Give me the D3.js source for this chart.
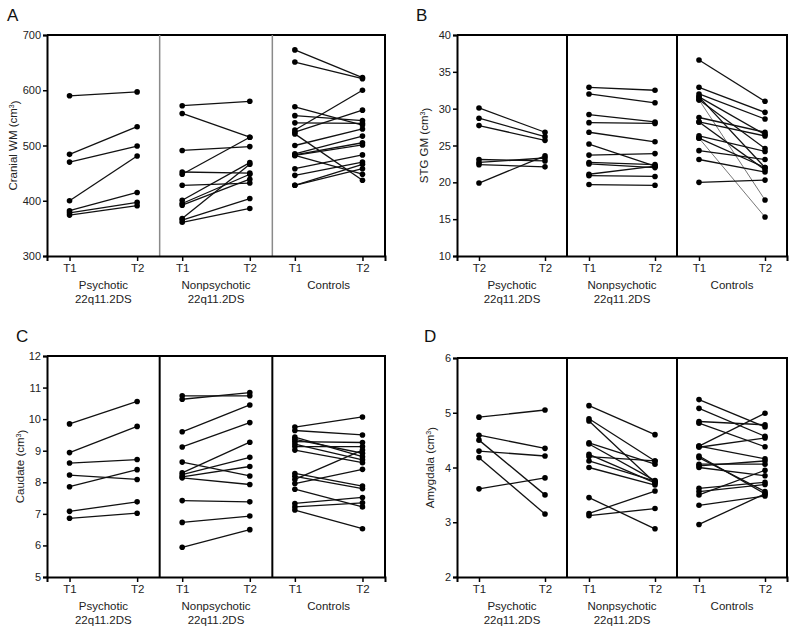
<!DOCTYPE html>
<meta charset="utf-8">
<style>
body { margin: 0; background: #fff; }
svg { font-family: "Liberation Sans", Arial, sans-serif; }
.axis text { font-size: 11px; fill: #222; }
.axis .domain { stroke: #000; stroke-width: 2; }
.axis line { stroke: #000; stroke-width: 1.5; }
.frame { fill: none; stroke: #000; stroke-width: 2; }
.pair { stroke: #111; stroke-width: 1.3; fill: none; }
.dot { fill: #000; }
.glabel { font-size: 11.5px; fill: #222; text-anchor: middle; }
.letter { font-size: 17px; fill: #111; }
.ylabel { font-size: 11.5px; fill: #222; text-anchor: middle; }
</style>
<body>
<script src="https://d3js.org/d3.v7.min.js"></script>
<script>

// values, [T1, T2] per subject
var cranialPsychotic = [[590,597],[484,534],[470,499],[400,481],[382,415],[378,397],[374,391]];
var cranialNonpsychotic = [[572,580],[558,515],[491,498],[452,450],[448,515],[428,432],
                           [401,469],[395,448],[392,439],[368,466],[365,404],[361,386]];
var cranialControls = [[673,623],[651,621],[570,537],[554,545],[541,540],[528,600],[524,564],
                       [521,437],[500,530],[485,517],[483,505],[482,501],[482,448],[458,483],
                       [446,470],[428,466],[428,458]];

var stgPsychotic = [[30.1,26.8],[28.7,26.2],[27.7,25.7],[23.1,22.9],[22.7,23.3],[22.4,22.1],[19.9,23.6]];
var stgNonpsychotic = [[32.9,32.5],[32.0,30.8],[29.2,28.2],[28.1,28.0],[26.8,25.5],[25.2,22.2],
                       [23.7,23.9],[22.7,22.4],[22.5,22.0],[21.1,22.2],[20.9,20.8],[19.7,19.6]];
var stgControls = [[36.6,31.0],[32.9,29.5],[32.0,28.6],[31.6,26.5],[31.2,24.6],[31.2,17.6],
                   [31.6,22.0],[28.8,26.8],[28.2,26.3],[28.2,21.7],[26.3,24.2],[26.0,22.0],
                   [26.0,15.3],[24.3,23.1],[23.1,21.4],[20.0,20.3]];
// subjects drawn with a lighter line in the original
var stgControlsFaint = [5, 12];

var caudatePsychotic = [[9.85,10.56],[8.94,9.77],[8.61,8.72],[8.23,8.09],[7.86,8.40],[7.08,7.38],[6.86,7.02]];
var caudateNonpsychotic = [[10.74,10.74],[10.63,10.84],[9.60,10.45],[9.12,9.89],[8.64,8.20],[8.30,9.27],
                           [8.24,8.79],[8.17,8.50],[8.14,7.93],[7.42,7.38],[6.73,6.93],[5.94,6.50]];
var caudateControls = [[9.75,10.07],[9.64,9.50],[9.43,8.81],[9.36,8.92],[9.29,9.26],[9.21,8.71],
                       [9.13,9.13],[9.02,8.62],[8.28,7.88],[8.19,7.80],[8.09,9.02],[7.96,8.41],
                       [7.78,7.22],[7.33,7.52],[7.22,7.35],[7.12,6.53]];

var amygPsychotic = [[4.92,5.05],[4.59,4.35],[4.50,3.50],[4.30,4.21],[4.18,3.15],[3.61,3.81]];
var amygNonpsychotic = [[5.13,4.60],[4.89,4.12],[4.85,3.72],[4.45,4.06],[4.43,3.76],[4.24,3.72],
                        [4.20,4.12],[4.12,3.75],[4.00,3.68],[3.45,2.88],[3.16,3.57],[3.12,3.25]];
var amygControls = [[5.24,4.74],[5.08,4.57],[4.84,4.78],[4.81,4.38],[4.39,4.99],[4.37,4.54],
                    [4.39,4.16],[4.21,3.52],[4.18,3.56],[4.06,4.06],[4.03,4.12],[4.00,3.85],
                    [3.62,3.73],[3.56,3.69],[3.50,3.95],[3.31,3.48],[2.96,3.52]];

var groupNames = [["Psychotic","22q11.2DS"],["Nonpsychotic","22q11.2DS"],["Controls"]];
var timeLabels = ["T1","T2","T1","T2","T1","T2"];
var timeLabelsB = ["T2","T2","T1","T2","T1","T2"];

var panels = [
  {letter:"A", label:"Cranial WM", groups:[cranialPsychotic,cranialNonpsychotic,cranialControls],
   domain:[300,700], ticks:[300,400,500,600,700], times:timeLabels, faint:[[],[],[]],
   left:47, right:385, top:35, bottom:256, lx:7, ly:21, yl:13, divider:"#8a8a8a"},
  {letter:"B", label:"STG GM", groups:[stgPsychotic,stgNonpsychotic,stgControls],
   domain:[10,40], ticks:[10,15,20,25,30,35,40], times:timeLabelsB, faint:[[],[],stgControlsFaint],
   left:457, right:787, top:35, bottom:256, lx:416, ly:21, yl:424, divider:"#000"},
  {letter:"C", label:"Caudate", groups:[caudatePsychotic,caudateNonpsychotic,caudateControls],
   domain:[5,12], ticks:[5,6,7,8,9,10,11,12], times:timeLabels, faint:[[],[],[]],
   left:47, right:385, top:356, bottom:577, lx:16, ly:342, yl:20, divider:"#000"},
  {letter:"D", label:"Amygdala", groups:[amygPsychotic,amygNonpsychotic,amygControls],
   domain:[2,6], ticks:[2,3,4,5,6], times:timeLabels, faint:[[],[],[]],
   left:457, right:787, top:358, bottom:577, lx:424, ly:342, yl:430, divider:"#000"}
];

var offsets = [0.2, 0.8];

var svg = d3.select("body").append("svg")
    .attr("width", 800)
    .attr("height", 628);

panels.forEach(function(p) {
  var x = d3.scaleLinear().domain([0, 3]).range([p.left, p.right]);
  var y = d3.scaleLinear().domain(p.domain).range([p.bottom, p.top]);
  var g = svg.append("g");

  // frame: top and right edge, axes make the rest
  g.append("path")
    .attr("class", "frame")
    .attr("d", "M" + p.left + "," + p.top + "H" + p.right + "V" + p.bottom);

  // group dividers
  [1, 2].forEach(function(k) {
    g.append("line")
      .attr("x1", x(k)).attr("x2", x(k))
      .attr("y1", p.top).attr("y2", p.bottom)
      .attr("stroke", p.divider)
      .attr("stroke-width", p.divider == "#000" ? 2 : 1.5);
  });

  var tickPos = [];
  [0, 1, 2].forEach(function(k) { offsets.forEach(function(o) { tickPos.push(k + o); }); });

  g.append("g")
    .attr("class", "axis")
    .attr("transform", "translate(0," + p.bottom + ")")
    .call(d3.axisBottom(x).tickValues(tickPos).tickSize(5).tickPadding(3)
      .tickFormat(function(d, i) { return p.times[i]; }))
    .selectAll("text").style("font-size", "11.5px");

  g.append("g")
    .attr("class", "axis")
    .attr("transform", "translate(" + p.left + ",0)")
    .call(d3.axisLeft(y).tickValues(p.ticks).tickSize(4).tickPadding(2).tickFormat(d3.format("d")));

  // subjects
  p.groups.forEach(function(rows, k) {
    var sub = g.append("g");
    sub.selectAll("line.pair")
      .data(rows)
      .enter().append("line")
        .attr("class", "pair")
        .attr("x1", x(k + offsets[0]))
        .attr("x2", x(k + offsets[1]))
        .attr("y1", function(d) { return y(d[0]); })
        .attr("y2", function(d) { return y(d[1]); })
        .style("stroke", function(d, i) { return p.faint[k].indexOf(i) >= 0 ? "#777" : null; })
        .style("stroke-width", function(d, i) { return p.faint[k].indexOf(i) >= 0 ? 1 : null; });
    [0, 1].forEach(function(t) {
      sub.selectAll("circle.t" + t)
        .data(rows)
        .enter().append("circle")
          .attr("class", "dot t" + t)
          .attr("r", 2.8)
          .attr("cx", x(k + offsets[t]))
          .attr("cy", function(d) { return y(d[t]); });
    });

    groupNames[k].forEach(function(s, j) {
      g.append("text")
        .attr("class", "glabel")
        .attr("x", x(k + 0.5))
        .attr("y", p.bottom + 33 + j * 14)
        .text(s);
    });
  });

  g.append("text")
    .attr("class", "letter")
    .attr("x", p.lx)
    .attr("y", p.ly)
    .text(p.letter);

  var yl = g.append("text")
    .attr("class", "ylabel")
    .attr("transform", "translate(" + p.yl + "," + ((p.top + p.bottom) / 2) + ") rotate(-90)")
    .attr("dy", "0.35em");
  yl.append("tspan").text(p.label + " (cm");
  yl.append("tspan").attr("dy", "-0.45em").style("font-size", "7px").text("3");
  yl.append("tspan").attr("dy", "0.45em").text(")");
});

</script>
</body>
